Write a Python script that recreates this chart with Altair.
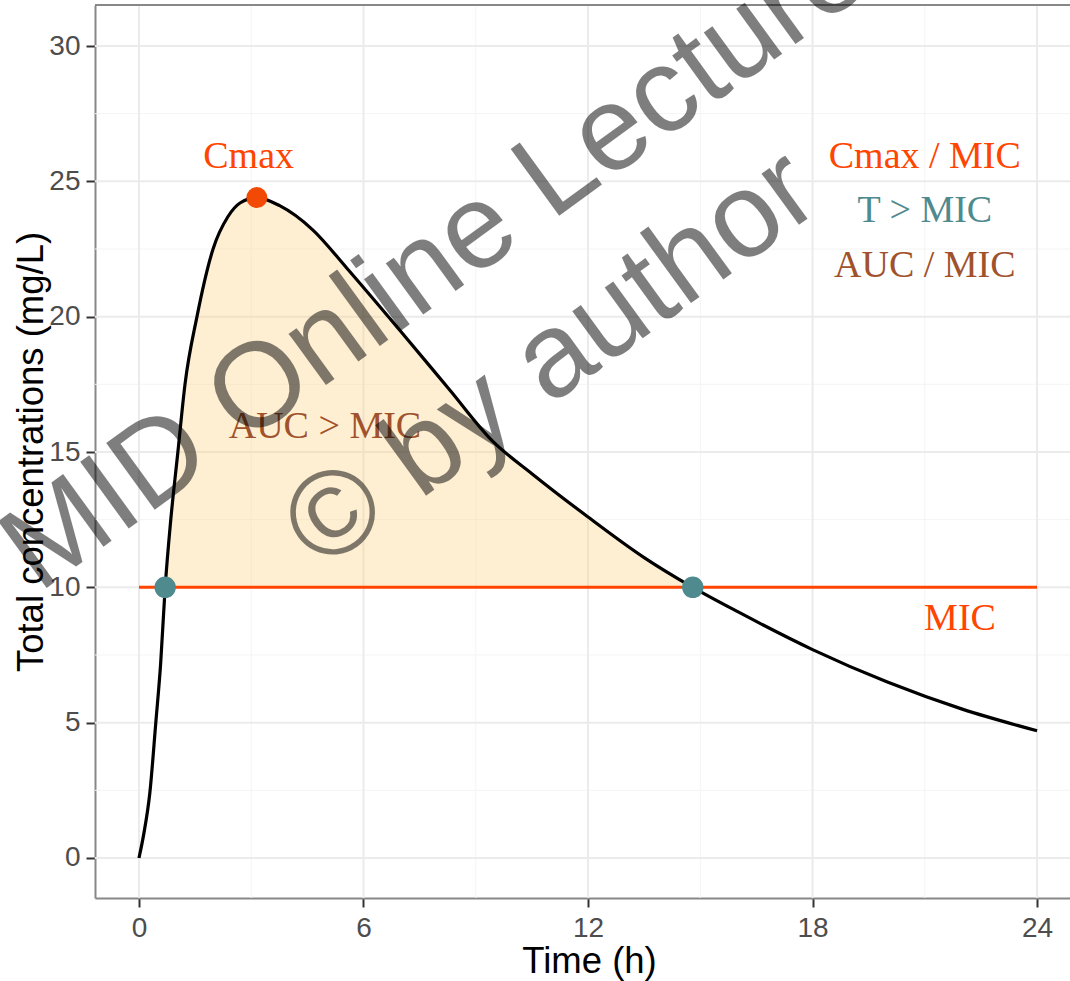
import altair as alt
import pandas as pd

# ---- data ----
time_h = [0, 0.13, 0.29, 0.45, 0.58, 0.7, 0.85, 1.04, 1.23, 1.55, 1.98, 2.38, 2.7, 3.15,
          3.76, 4.65, 5.55, 6.97, 8.3, 9.45, 10.5, 12.0, 13.5, 14.8, 16.0, 18.0, 20.0, 22.0, 24.0]
conc = [0, 0.9, 2.4, 5.0, 7.2, 10.0, 12.5, 15.0, 17.5, 20.0, 22.5, 23.7, 24.2, 24.4,
        24.1, 23.2, 21.8, 19.5, 17.3, 15.4, 14.2, 12.6, 11.1, 10.0, 9.1, 7.7, 6.5, 5.5, 4.7]

mic_value = 10
mic_span = [0, 24]
cross_t = [0.7, 14.8]
cmax_t = [3.15]
cmax_c = [24.4]

ann_labels = ["Cmax", "Cmax / MIC", "T > MIC", "AUC / MIC", "AUC > MIC", "MIC"]
ann_t = [2.93, 21.0, 21.0, 21.0, 4.97, 21.94]
ann_c = [25.49, 25.49, 23.5, 21.47, 15.52, 8.42]
ann_kind = ["cmax", "cmax", "time", "auc", "auc", "cmax"]

x_major = [0, 6, 12, 18, 24]
x_minor = [3, 9, 15, 21]
y_major = [0, 5, 10, 15, 20, 25, 30]
y_minor = [2.5, 7.5, 12.5, 17.5, 22.5, 27.5]

watermark = ["MID Online Lecture", "\u00a9 by author"]

# ---- styling ----
W, H = 975, 893
ORANGE = "#FF4500"
TEAL = "#4E8A8E"
BROWN = "#A0522D"
FONT = "Liberation Sans"
SERIF = "Liberation Serif"

xs = alt.Scale(domain=[-1.175, 24.88], nice=False, zero=False)
ys = alt.Scale(domain=[-1.478, 31.515], nice=False, zero=False)

xaxis = alt.Axis(values=x_major, grid=False, domainColor="#888888", domainWidth=2,
                 tickColor="#333333", tickWidth=2, tickSize=9, labelFontSize=28,
                 labelColor="#4D4D4D", labelFont=FONT, labelPadding=7, labelFlush=False,
                 titleFontSize=36.5, titleFont=FONT, titleColor="#000000",
                 titleFontWeight="normal", titleBaseline="alphabetic", titleX=494, titleY=74)
yaxis = alt.Axis(values=y_major, grid=False, domainColor="#888888", domainWidth=2,
                 tickColor="#333333", tickWidth=2, tickSize=9, labelFontSize=28,
                 labelColor="#4D4D4D", labelFont=FONT, labelPadding=6, labelFlush=False,
                 titleFontSize=36.5, titleFont=FONT, titleColor="#000000",
                 titleFontWeight="normal", titleBaseline="alphabetic", titleAngle=270,
                 titleX=-53, titleY=H / 2, titleAlign="center")

X = alt.X("t:Q", scale=xs, axis=xaxis, title="Time (h)")
Y = alt.Y("c:Q", scale=ys, axis=yaxis, title="Total concentrations (mg/L)")

curve_df = pd.DataFrame({"t": time_h, "c": conc})

# grid
def vgrid(vals, width, color):
    return alt.Chart(pd.DataFrame({"t": vals})).mark_rule(strokeWidth=width, color=color).encode(
        x=X, y=alt.value(0), y2=alt.value(H))

def hgrid(vals, width, color):
    return alt.Chart(pd.DataFrame({"c": vals})).mark_rule(strokeWidth=width, color=color).encode(
        y=Y, x=alt.value(0), x2=alt.value(W))

grid = [vgrid(x_minor, 1, "#F4F4F4"), hgrid(y_minor, 1, "#F4F4F4"),
        vgrid(x_major, 2, "#EBEBEB"), hgrid(y_major, 2, "#EBEBEB")]

top_border = alt.Chart(pd.DataFrame({"c": [0]})).mark_rule(color="#888888", strokeWidth=2).encode(
    y=alt.value(0), x=alt.value(0), x2=alt.value(W))

area = alt.Chart(curve_df).transform_filter(
    (alt.datum.t >= cross_t[0]) & (alt.datum.t <= cross_t[1])
).transform_calculate(base=str(mic_value)).mark_area(
    color="#FFD27F", opacity=0.35, interpolate="monotone", clip=True
).encode(x=X, y=Y, y2="base:Q")

mic_line = alt.Chart(pd.DataFrame({"t": mic_span, "c": [mic_value, mic_value]})).mark_line(
    color=ORANGE, strokeWidth=3, clip=True).encode(x=X, y=Y)

curve = alt.Chart(curve_df).mark_line(color="black", strokeWidth=3.2, interpolate="monotone",
                                      clip=True).encode(x=X, y=Y)

cross_pts = alt.Chart(pd.DataFrame({"t": cross_t, "c": [mic_value] * len(cross_t)})).mark_circle(
    size=460, color=TEAL, opacity=1).encode(x=X, y=Y)
cmax_pt = alt.Chart(pd.DataFrame({"t": cmax_t, "c": cmax_c})).mark_circle(
    size=440, color="#F24A05", opacity=1).encode(x=X, y=Y)

ann = alt.Chart(pd.DataFrame({"t": ann_t, "c": ann_c, "label": ann_labels, "kind": ann_kind})).mark_text(
    font=SERIF, fontSize=38, align="center", baseline="alphabetic").encode(
    x=X, y=Y, text="label:N",
    color=alt.Color("kind:N", scale=alt.Scale(domain=["cmax", "time", "auc"],
                                              range=[ORANGE, TEAL, BROWN]), legend=None))

wm1 = alt.Chart(pd.DataFrame({"w": [watermark[0]]})).mark_text(
    font=FONT, fontSize=120, angle=324, color="black", opacity=0.5,
    align="center", baseline="alphabetic").encode(text="w:N", x=alt.value(362), y=alt.value(285))
wm2 = alt.Chart(pd.DataFrame({"w": [watermark[1]]})).mark_text(
    font=FONT, fontSize=120, angle=324, color="black", opacity=0.5,
    align="center", baseline="alphabetic").encode(text="w:N", x=alt.value(478), y=alt.value(384))

chart = alt.layer(*grid, area, mic_line, curve, cross_pts, cmax_pt, ann, top_border, wm1, wm2).properties(
    width=W, height=H,
    autosize=alt.AutoSizeParams(type="none"),
    padding={"left": 95, "top": 5, "right": 0, "bottom": 83},
    background="white",
).configure_view(stroke="transparent")

chart.save("out.html", embed_options={"renderer": "svg", "actions": False})
